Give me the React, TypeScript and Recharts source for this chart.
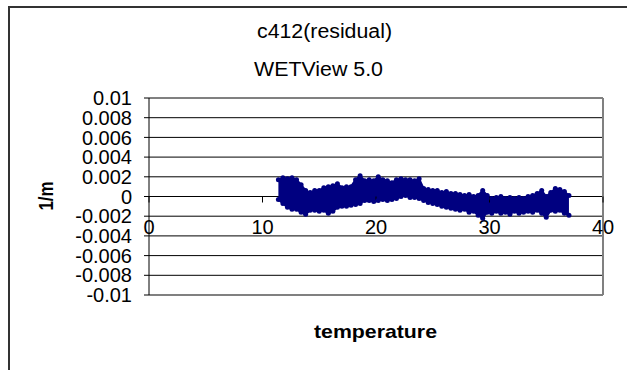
import {
  ComposedChart,
  Area,
  Scatter,
  XAxis,
  YAxis,
  CartesianGrid,
  ReferenceLine,
  ReferenceDot,
} from "recharts";

const FONT = '"Liberation Sans", Arial, sans-serif';
const NAVY = "#000080";

const TITLE = "c412(residual)";
const SUBTITLE = "WETView 5.0";
const X_TITLE = "temperature";
const Y_TITLE = "1/m";

const X_TICKS = [0, 10, 20, 30, 40];
const Y_TICKS = [
  -0.01, -0.008, -0.006, -0.004, -0.002, 0, 0.002, 0.004, 0.006, 0.008, 0.01,
];

// temperature samples along the residual cloud
const TEMP = [
  11.4, 11.8, 12.2, 12.6, 13.0, 13.4, 13.8, 14.2, 14.6, 15.0, 15.4, 15.8, 16.2,
  16.6, 17.0, 17.4, 17.8, 18.2, 18.6, 19.0, 19.4, 19.8, 20.2, 20.6, 21.0, 21.4,
  21.8, 22.2, 22.6, 23.0, 23.4, 23.8, 24.2, 24.6, 25.0, 25.4, 25.8, 26.2, 26.6,
  27.0, 27.4, 27.8, 28.2, 28.6, 29.0, 29.4, 29.8, 30.2, 30.6, 31.0, 31.4, 31.8,
  32.2, 32.6, 33.0, 33.4, 33.8, 34.2, 34.6, 35.0, 35.4, 35.8, 36.2, 36.6, 37.0,
];

// upper edge of the residual cloud (1/m)
const HIGH = [
  0.0017, 0.0019, 0.0018, 0.0019, 0.0017, 0.0012, 0.0006, 0.0004, 0.0006,
  0.0006, 0.0009, 0.001, 0.0011, 0.0013, 0.0009, 0.001, 0.001, 0.0017, 0.0021,
  0.0016, 0.0017, 0.0016, 0.002, 0.0017, 0.0016, 0.0014, 0.0017, 0.0018,
  0.0017, 0.0017, 0.0016, 0.0018, 0.0008, 0.0007, 0.0006, 0.0006, 0.0004,
  0.0005, 0.0003, 0.0003, 0.0002, 0.0001, 0.0002, 0.0, 0.0001, 0.0006, 0.0001,
  -0.0002, -0.0001, 0.0, -0.0002, -0.0001, -0.0002, -0.0001, -0.0002, 0.0,
  0.0001, 0.0003, 0.0006, 0.0, 0.0004, 0.0008, 0.0007, 0.0005, 0.0001,
];

// lower edge of the residual cloud (1/m)
const LOW = [
  -0.0003, -0.0007, -0.0011, -0.0013, -0.0013, -0.0016, -0.0018, -0.0014,
  -0.0014, -0.0015, -0.0014, -0.0017, -0.0015, -0.0011, -0.001, -0.001,
  -0.0009, -0.0008, -0.0007, -0.0004, -0.0004, -0.0005, -0.0004, -0.0003,
  -0.0004, -0.0003, -0.0002, 0.0, 0.0001, -0.0001, -0.0001, -0.0002, -0.0004,
  -0.0006, -0.0007, -0.0008, -0.001, -0.0011, -0.0012, -0.0013, -0.0014,
  -0.0013, -0.0016, -0.0015, -0.0019, -0.0022, -0.0016, -0.0017, -0.0015,
  -0.0017, -0.0016, -0.0018, -0.0015, -0.0017, -0.0016, -0.0015, -0.0016,
  -0.0014, -0.0017, -0.0021, -0.0014, -0.0015, -0.0014, -0.0017, -0.0019,
];

const rows = TEMP.map((t, i) => ({
  t,
  hi: HIGH[i],
  lo: LOW[i],
  band: [LOW[i], HIGH[i]],
}));

const marker = (p: any) => <circle cx={p.cx} cy={p.cy} r={2.5} fill={NAVY} />;

// x axis crosses at y = 0, so ticks + labels are drawn at (value, 0)
const xTick = (value: number) => (p: any) => (
  <g>
    <line x1={p.cx} y1={p.cy} x2={p.cx} y2={p.cy + 6} stroke="#000" />
    <text
      x={p.cx}
      y={p.cy + 37}
      textAnchor="middle"
      fontSize={20}
      fontFamily={FONT}
      fill="#000"
    >
      {value}
    </text>
  </g>
);

export default function App() {
  return (
    <div
      style={{
        position: "absolute",
        left: 0,
        top: 0,
        width: 627,
        height: 370,
        overflow: "hidden",
        background: "#fff",
      }}
    >
      <svg
        width={627}
        height={370}
        style={{ position: "absolute", left: 0, top: 0 }}
      >
        <line x1={9} y1={7} x2={627} y2={7} stroke="#333" strokeWidth={2} />
        <line x1={9} y1={6} x2={9} y2={370} stroke="#333" strokeWidth={2} />
        <text
          x={324.5}
          y={38}
          textAnchor="middle"
          fontSize={20}
          fontFamily={FONT}
          textLength={135}
          lengthAdjust="spacingAndGlyphs"
        >
          {TITLE}
        </text>
        <text
          x={318.5}
          y={76}
          textAnchor="middle"
          fontSize={20}
          fontFamily={FONT}
          textLength={129}
          lengthAdjust="spacingAndGlyphs"
        >
          {SUBTITLE}
        </text>
        <text
          x={375.5}
          y={338}
          textAnchor="middle"
          fontSize={19}
          fontWeight="bold"
          fontFamily={FONT}
          textLength={123}
          lengthAdjust="spacingAndGlyphs"
        >
          {X_TITLE}
        </text>
        <text
          x={53}
          y={196}
          textAnchor="middle"
          fontSize={21}
          fontWeight="bold"
          fontFamily={FONT}
          transform="rotate(-90 53 196)"
          textLength={29}
          lengthAdjust="spacingAndGlyphs"
        >
          {Y_TITLE}
        </text>
      </svg>
      <div style={{ position: "absolute", left: 0, top: 0 }}>
        <ComposedChart
          width={627}
          height={370}
          data={rows}
          margin={{ top: 98, right: 24, bottom: 75, left: 0 }}
        >
          <CartesianGrid vertical={false} stroke="#000" strokeWidth={1} />
          <XAxis type="number" dataKey="t" domain={[0, 40]} hide />
          <YAxis
            type="number"
            domain={[-0.01, 0.01]}
            ticks={Y_TICKS}
            interval={0}
            width={149}
            tickSize={5}
            tickMargin={12}
            axisLine={{ stroke: "#000" }}
            tickLine={{ stroke: "#000" }}
            tick={{ fontSize: 20, fill: "#000", fontFamily: FONT }}
            tickFormatter={(v: number) => String(v)}
          />
          <ReferenceLine y={0.01} stroke="#808080" strokeWidth={2} />
          <ReferenceLine y={-0.01} stroke="#808080" strokeWidth={2} />
          <ReferenceLine x={40} stroke="#808080" strokeWidth={2} />
          {X_TICKS.map((v) => (
            <ReferenceDot
              key={v}
              x={v}
              y={0}
              ifOverflow="visible"
              shape={xTick(v)}
            />
          ))}
          <Area
            type="linear"
            dataKey="band"
            fill={NAVY}
            fillOpacity={1}
            stroke={NAVY}
            strokeWidth={2}
            dot={false}
            activeDot={false}
            isAnimationActive={false}
          />
          <Scatter dataKey="hi" shape={marker} isAnimationActive={false} />
          <Scatter dataKey="lo" shape={marker} isAnimationActive={false} />
        </ComposedChart>
      </div>
    </div>
  );
}
